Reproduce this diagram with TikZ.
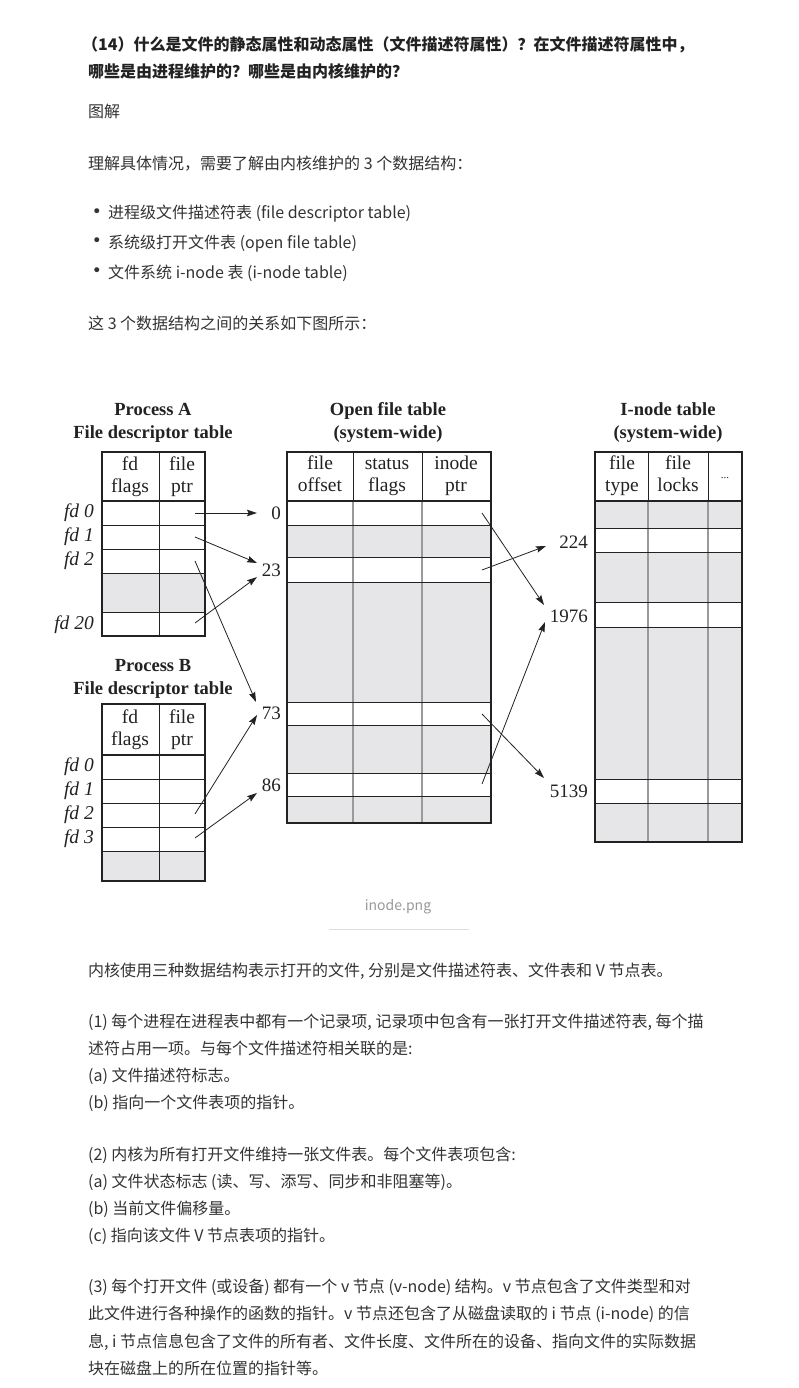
\documentclass[tikz,border=0pt]{standalone}
\usepackage{fontspec}
\newfontfamily\cjk{Noto Sans CJK SC}
\newfontfamily\dejavu{DejaVu Sans}
\newfontfamily\dia{Liberation Serif}
\usetikzlibrary{arrows.meta}
\definecolor{txt}{HTML}{333333}
\definecolor{headc}{HTML}{222222}
\definecolor{cellgray}{HTML}{E6E6E8}
\definecolor{divgray}{HTML}{9A9A9A}
\definecolor{ink}{HTML}{222222}
\definecolor{capgray}{HTML}{999999}
\definecolor{rulegray}{HTML}{DDDDDD}
\begin{document}
\begin{tikzpicture}[x=1pt,y=-1pt,
  body/.style={anchor=base west,inner sep=0pt,text=txt,font=\cjk\fontsize{16}{16}\selectfont},
  bul/.style={inner sep=0pt,text=txt,font=\dejavu\fontsize{17}{17}\selectfont},
  headline/.style={anchor=base west,inner sep=0pt,text=headc,font=\cjk\bfseries\fontsize{16}{16}\selectfont},
  ttl/.style={align=center,inner sep=0pt,text=ink,font=\dia\bfseries\fontsize{18.5}{23}\selectfont},
  hdr/.style={align=center,inner sep=0pt,text=ink,font=\dia\fontsize{19.5}{22}\selectfont},
  fdl/.style={anchor=east,inner sep=0pt,text=ink,font=\dia\itshape\fontsize{19.5}{20}\selectfont},
  num/.style={anchor=east,inner sep=0pt,text=ink,font=\dia\fontsize{19}{20}\selectfont},
  frame/.style={draw=ink,line width=2.5pt},
  rowline/.style={draw=ink,line width=0.9pt},
  coldiv/.style={draw=divgray,line width=1.2pt},
  hdrdiv/.style={draw=ink,line width=0.9pt},
  ptr/.style={draw=ink,line width=0.8pt,-{Stealth[length=10pt,width=6.5pt,inset=1.5pt]}},
]
\fill[white] (0,0) rectangle (799,1388);
\path[use as bounding box] (0,0) rectangle (799,1388);

% ---------------- top text ----------------
\node[headline] (h1) at (82,51) {（14）什么是文件的静态属性和动态属性（文件描述符属性）？在文件描述符属性中，};
\node[headline] (h2) at (88,78) {哪些是由进程维护的？哪些是由内核维护的？};
\node[body] (t1) at (88,118) {图解};
\node[body] (t2) at (88,170) {理解具体情况，需要了解由内核维护的 3 个数据结构：};
\node[bul] (b1d) at (97,213) {•};
\node[body] (b1) at (108,219) {进程级文件描述符表 (file descriptor table)};
\node[bul] (b2d) at (97,242) {•};
\node[body] (b2) at (108,248) {系统级打开文件表 (open file table)};
\node[bul] (b3d) at (97,272) {•};
\node[body] (b3) at (108,278) {文件系统 i-node 表 (i-node table)};
\node[body] (t3) at (88,329) {这 3 个数据结构之间的关系如下图所示：};

% ---------------- Process A ----------------
\node[ttl] (ttlA) at (153,422) {\strut Process A\\\strut File descriptor table};
\fill[cellgray] (102,573) rectangle (205,612);
\foreach \y in {525,549,573,612} \draw[rowline] (102,\y) -- (205,\y);
\draw[hdrdiv] (159,452) -- (159,636);
\draw[frame] (102,501) -- (205,501);
\draw[frame] (102,452) rectangle (205,636);
\node[hdr] (Ahf) at (130,477) {\strut fd\\\strut flags};
\node[hdr] (Ahp) at (182,477) {\strut file\\\strut ptr};
\node[fdl] (Afd0) at (94,513) {fd 0};
\node[fdl] (Afd1) at (94,537) {fd 1};
\node[fdl] (Afd2) at (94,561) {fd 2};
\node[fdl] (Afd20) at (94,625) {fd 20};
\coordinate (A0) at (195,513);
\coordinate (A1) at (195,537);
\coordinate (A2) at (195,561);
\coordinate (A20) at (195,623);

% ---------------- Process B ----------------
\node[ttl] (ttlB) at (153,678) {\strut Process B\\\strut File descriptor table};
\fill[cellgray] (102,851) rectangle (205,881);
\foreach \y in {779,803,827,851} \draw[rowline] (102,\y) -- (205,\y);
\draw[hdrdiv] (159,704) -- (159,881);
\draw[frame] (102,755) -- (205,755);
\draw[frame] (102,704) rectangle (205,881);
\node[hdr] (Bhf) at (130,730) {\strut fd\\\strut flags};
\node[hdr] (Bhp) at (182,730) {\strut file\\\strut ptr};
\node[fdl] (Bfd0) at (94,767) {fd 0};
\node[fdl] (Bfd1) at (94,791) {fd 1};
\node[fdl] (Bfd2) at (94,815) {fd 2};
\node[fdl] (Bfd3) at (94,839) {fd 3};
\coordinate (B2) at (195,814);
\coordinate (B3) at (195,838);

% ---------------- Open file table ----------------
\node[ttl] (ttlO) at (388,422) {\strut Open file table\\\strut (system-wide)};
\fill[cellgray] (287,525) rectangle (491,557);
\fill[cellgray] (287,582) rectangle (491,702);
\fill[cellgray] (287,725) rectangle (491,773);
\fill[cellgray] (287,796) rectangle (491,823);
\draw[coldiv] (353,501) -- (353,823);
\draw[coldiv] (422,501) -- (422,823);
\draw[hdrdiv] (353,452) -- (353,501);
\draw[hdrdiv] (422,452) -- (422,501);
\foreach \y in {525,557,582,702,725,773,796} \draw[rowline] (287,\y) -- (491,\y);
\draw[frame] (287,501) -- (491,501);
\draw[frame] (287,452) rectangle (491,823);
\node[hdr] (Oh1) at (320,476) {\strut file\\\strut offset};
\node[hdr] (Oh2) at (387,476) {\strut status\\\strut flags};
\node[hdr] (Oh3) at (456,476) {\strut inode\\\strut ptr};
\node[num] (n0) at (281,513) {0};
\node[num] (n23) at (281,570) {23};
\node[num] (n73) at (281,713) {73};
\node[num] (n86) at (281,785) {86};
\coordinate (O0) at (482,513);
\coordinate (O23) at (482,570);
\coordinate (O73) at (482,714);
\coordinate (O86) at (482,784);

% ---------------- I-node table ----------------
\node[ttl] (ttlI) at (668,422) {\strut I-node table\\\strut (system-wide)};
\fill[cellgray] (595,501) rectangle (742,528);
\fill[cellgray] (595,552) rectangle (742,602);
\fill[cellgray] (595,627) rectangle (742,779);
\fill[cellgray] (595,803) rectangle (742,842);
\draw[coldiv] (648,501) -- (648,842);
\draw[coldiv] (708,501) -- (708,842);
\draw[hdrdiv] (648,452) -- (648,501);
\draw[hdrdiv] (708,452) -- (708,501);
\foreach \y in {528,552,602,627,779,803} \draw[rowline] (595,\y) -- (742,\y);
\draw[frame] (595,501) -- (742,501);
\draw[frame] (595,452) rectangle (742,842);
\node[hdr] (Ih1) at (622,476) {\strut file\\\strut type};
\node[hdr] (Ih2) at (678,476) {\strut file\\\strut locks};
\node[inner sep=0pt,text=ink,font=\dia\fontsize{11}{11}\selectfont] (Ih3) at (725,478) {...};
\node[num] (n224) at (588,542) {224};
\node[num] (n1976) at (588,616) {1976};
\node[num] (n5139) at (588,791) {5139};

% ---------------- pointers ----------------
\coordinate (tip0) at (257,513);
\coordinate (tip23a) at (257,563);
\coordinate (tip23b) at (257,577);
\coordinate (tip73a) at (256,702);
\coordinate (tip73b) at (257,715);
\coordinate (tip86) at (257,793);
\coordinate (tip224) at (546,546);
\coordinate (tip1976a) at (544,605);
\coordinate (tip1976b) at (545,622);
\coordinate (tip5139) at (544,778);
\draw[ptr] (A0) -- (tip0);
\draw[ptr] (A1) -- (tip23a);
\draw[ptr] (A20) -- (tip23b);
\draw[ptr] (A2) -- (tip73a);
\draw[ptr] (B2) -- (tip73b);
\draw[ptr] (B3) -- (tip86);
\draw[ptr] (O0) -- (tip1976a);
\draw[ptr] (O23) -- (tip224);
\draw[ptr] (O73) -- (tip5139);
\draw[ptr] (O86) -- (tip1976b);

% ---------------- caption ----------------
\node[inner sep=0pt,text=capgray,font=\cjk\fontsize{14}{14}\selectfont] (cap) at (398,907) {inode.png};
\coordinate (capL) at (329,929);
\coordinate (capR) at (469,929);
\draw[rulegray,line width=1pt] (capL) -- (capR);

% ---------------- bottom text ----------------
\node[body] (p0) at (88,976) {内核使用三种数据结构表示打开的文件, 分别是文件描述符表、文件表和 V 节点表。};
\node[body] (p1a) at (88,1027) {(1) 每个进程在进程表中都有一个记录项, 记录项中包含有一张打开文件描述符表, 每个描};
\node[body] (p1b) at (88,1054) {述符占用一项。与每个文件描述符相关联的是:};
\node[body] (p1c) at (88,1081) {(a) 文件描述符标志。};
\node[body] (p1d) at (88,1108) {(b) 指向一个文件表项的指针。};
\node[body] (p2a) at (88,1160) {(2) 内核为所有打开文件维持一张文件表。每个文件表项包含:};
\node[body] (p2b) at (88,1187) {(a) 文件状态标志 (读、写、添写、同步和非阻塞等)。};
\node[body] (p2c) at (88,1214) {(b) 当前文件偏移量。};
\node[body] (p2d) at (88,1241) {(c) 指向该文件 V 节点表项的指针。};
\node[body] (p3a) at (88,1292) {(3) 每个打开文件 (或设备) 都有一个 v 节点 (v-node) 结构。v 节点包含了文件类型和对};
\node[body] (p3b) at (88,1319) {此文件进行各种操作的函数的指针。v 节点还包含了从磁盘读取的 i 节点 (i-node) 的信};
\node[body] (p3c) at (88,1347) {息, i 节点信息包含了文件的所有者、文件长度、文件所在的设备、指向文件的实际数据};
\node[body] (p3d) at (88,1374) {块在磁盘上的所在位置的指针等。};
\end{tikzpicture}
\end{document}
